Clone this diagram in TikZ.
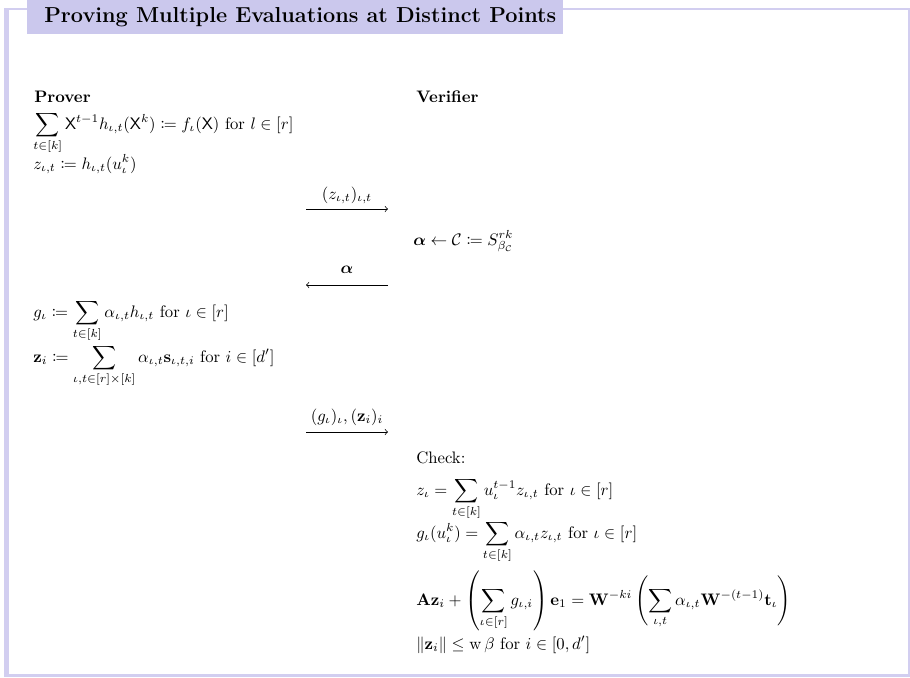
\documentclass[tikz,border=0pt]{standalone}
\usepackage{amsmath,amssymb,mathtools,bm}
\definecolor{titlefill}{RGB}{203,200,237}
\definecolor{framecol}{RGB}{210,206,240}
\begin{document}
\begin{tikzpicture}[x=0.6pt,y=-0.6pt,
  txt/.style={anchor=base west, inner sep=0pt, font=\fontsize{10}{12}\selectfont},
  lbl/.style={anchor=base, inner sep=0pt, font=\fontsize{10}{12}\selectfont},
  msg/.style={->, line width=0.45pt, >=to}]
\useasboundingbox (0,0) rectangle (910,677);
% frame
\fill[framecol] (4,8) rectangle (8.5,677);
\fill[framecol] (4,8) rectangle (910,10);
\fill[framecol] (907.5,8) rectangle (909.5,677);
\fill[framecol] (4,673.5) rectangle (909.5,677);
% title
\fill[titlefill] (27,0) rectangle (563,34);
\node[anchor=base west, inner sep=0pt, font=\fontsize{13}{15}\selectfont\bfseries] (title) at (44,22) {Proving Multiple Evaluations at Distinct Points};
% prover column
\node[txt, font=\fontsize{10}{12}\selectfont\bfseries] (prover) at (34,102) {Prover};
\node[txt] (p1) at (33,129) {$\displaystyle\sum_{t\in[k]} \mathsf{X}^{t-1} h_{\iota,t}(\mathsf{X}^k) \coloneqq f_\iota(\mathsf{X})$ for $l\in[r]$};
\node[txt] (p2) at (33,169) {$z_{\iota,t} \coloneqq h_{\iota,t}(u_\iota^k)$};
\node[txt] (p3) at (33,317) {$\displaystyle g_\iota \coloneqq \sum_{t\in[k]} \alpha_{\iota,t} h_{\iota,t}$ for $\iota\in[r]$};
\node[txt] (p4) at (33,362) {$\displaystyle \mathbf{z}_i \coloneqq \sum_{\iota,t\in[r]\times[k]} \alpha_{\iota,t}\mathbf{s}_{\iota,t,i}$ for $i\in[d']$};
% verifier column
\node[txt, font=\fontsize{10}{12}\selectfont\bfseries] (verifier) at (416,102) {Verifier};
\node[txt] (v1) at (413,245) {$\bm{\alpha} \leftarrow \mathcal{C} \coloneqq S^{rk}_{\beta_{\mathcal{C}}}$};
\node[txt] (v2) at (416,463) {Check:};
\node[txt] (v3) at (416,495) {$\displaystyle z_\iota = \sum_{t\in[k]} u_\iota^{t-1} z_{\iota,t}$ for $\iota\in[r]$};
\node[txt] (v4) at (416,538) {$\displaystyle g_\iota(u_\iota^k) = \sum_{t\in[k]} \alpha_{\iota,t} z_{\iota,t}$ for $\iota\in[r]$};
\node[txt] (v5) at (416,605) {$\displaystyle \mathbf{A}\mathbf{z}_i + \left(\sum_{\iota\in[r]} g_{\iota,i}\right)\mathbf{e}_1 = \mathbf{W}^{-ki}\left(\sum_{\iota,t}\alpha_{\iota,t}\mathbf{W}^{-(t-1)}\mathbf{t}_\iota\right)$};
\node[txt] (v6) at (416,649) {$\|\mathbf{z}_i\| \le \mathrm{w}\,\beta$ for $i\in[0,d']$};
% messages
\coordinate (m1s) at (306,209); \coordinate (m1e) at (388,209);
\coordinate (m2s) at (388,285); \coordinate (m2e) at (306,285);
\coordinate (m3s) at (306,432); \coordinate (m3e) at (388,432);
\draw[msg] (m1s) -- (m1e);
\draw[msg] (m2s) -- (m2e);
\draw[msg] (m3s) -- (m3e);
\node[lbl] (l1) at (347,199) {$(z_{\iota,t})_{\iota,t}$};
\node[lbl] (l2) at (347,273) {$\bm{\alpha}$};
\node[lbl] (l3) at (347,421) {$(g_\iota)_\iota, (\mathbf{z}_i)_i$};
\end{tikzpicture}
\end{document}
